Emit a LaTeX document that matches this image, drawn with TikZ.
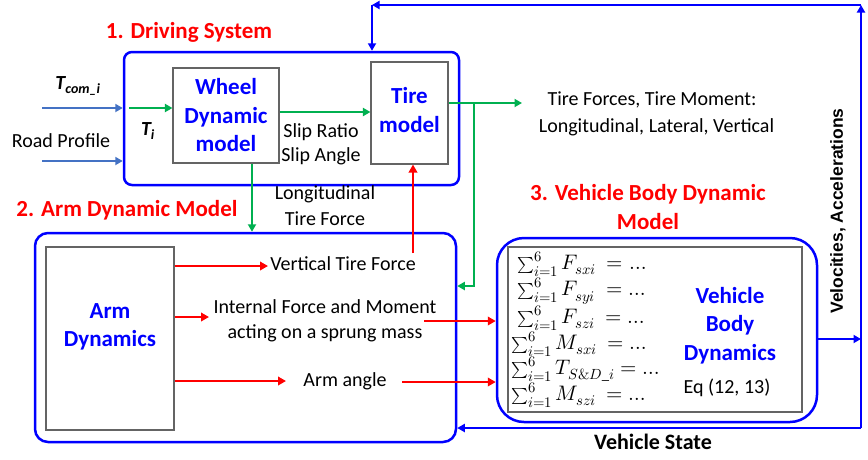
\documentclass[tikz,border=0pt]{standalone}
\usepackage{fontspec}
\usepackage{unicode-math}
\setmainfont{Carlito}
\setmathfont{Latin Modern Math}
\newfontfamily\arialfont{Liberation Sans}
\usetikzlibrary{arrows.meta,calc}
\definecolor{vblue}{RGB}{0,0,255}
\definecolor{vred}{RGB}{255,0,0}
\definecolor{vgreen}{RGB}{0,176,80}
\definecolor{inblue}{RGB}{68,114,196}
\definecolor{boxgray}{RGB}{100,100,100}
% compact summation sign for the body equations
\newcommand\bodysum{\mathop{\hbox{\fontsize{16}{16}\selectfont$\sum$}}\nolimits}
\tikzset{
  groupbox/.style={draw=vblue, line width=2.5pt, rounded corners=#1, inner sep=0pt},
  blockbox/.style={draw=boxgray, line width=1.1pt, fill=white, inner sep=0pt},
  heading/.style={font=\fontsize{23}{28}\selectfont\bfseries, text=vred, inner sep=0pt},
  blocklabel/.style={font=\fontsize{23}{28.5}\selectfont\bfseries, text=vblue, align=center, inner sep=0pt},
  sig/.style={font=\fontsize{20}{25}\selectfont, align=center, inner sep=0pt},
  eqn/.style={font=\fontsize{21}{24}\selectfont, anchor=west, inner sep=0pt},
  redarrow/.style={draw=vred, line width=2.8pt, -{Triangle[length=8pt,width=8.5pt]}},
  greenarrow/.style={draw=vgreen, line width=2.8pt, -{Triangle[length=7.5pt,width=8pt]}},
  bluearrow/.style={draw=vblue, line width=2.7pt, -{Triangle[length=7.5pt,width=8pt]}},
  inarrow/.style={draw=inblue, line width=2.5pt, -{Triangle[length=7.5pt,width=8pt]}},
}
\begin{document}
\begin{tikzpicture}[x=1pt,y=-1pt]
\useasboundingbox[fill=white] (0,0) rectangle (868,459);

% ---------- 1. Driving system ----------
\node[groupbox=8pt, minimum width=335pt, minimum height=133pt] (ds) at (291.5,118.5) {};
\node[blockbox, minimum width=106pt, minimum height=95pt] (wheel) at (226,115.5) {};
\node[blocklabel] (wheellbl) at (226,115.5) {Wheel\\Dynamic\\model};
\node[blockbox, minimum width=77pt, minimum height=102pt] (tire) at (409.5,113) {};
\node[blocklabel] (tirelbl) at (409.5,110) {Tire\\model};
\node[heading] (dshead) at (189,32) {1. Driving System};

% ---------- 2. Arm dynamic model ----------
\node[groupbox=13pt, minimum width=421pt, minimum height=209pt] (arm) at (245.5,337.5) {};
\node[blockbox, minimum width=128pt, minimum height=183pt] (armdyn) at (110,338.5) {};
\node[blocklabel] (armlbl) at (110,327) {Arm\\Dynamics};
\node[heading] (armhead) at (127,210) {2. Arm Dynamic Model};

% ---------- 3. Vehicle body dynamic model ----------
\node[groupbox=27pt, minimum width=320pt, minimum height=184pt] (veh) at (657,330) {};
\node[blockbox, minimum width=294pt, minimum height=165pt] (vehin) at (655,329.5) {};
\node[heading, align=center, font=\fontsize{23}{29}\selectfont\bfseries] (vehhead) at (648,207.5) {3. Vehicle Body Dynamic\\Model};
\node[blocklabel] (vehlbl) at (730,325.5) {Vehicle\\Body\\Dynamics};
\node[sig] (eqref) at (727,388) {Eq (12, 13)};

% body equations
\node[eqn] (e1) at (517,264) {$\bodysum_{i=1}^{6} F_{sxi}\ =\dots$};
\node[eqn] (e2) at (517,291) {$\bodysum_{i=1}^{6} F_{syi}\ =\dots$};
\node[eqn] (e3) at (517,318) {$\bodysum_{i=1}^{6} F_{szi}\ =\dots$};
\node[eqn] (e4) at (511,344) {$\bodysum_{i=1}^{6} M_{sxi}\ =\dots$};
\node[eqn] (e5) at (511,369) {$\bodysum_{i=1}^{6} T_{S\&D\_i}=\dots$};
\node[eqn] (e6) at (511,395) {$\bodysum_{i=1}^{6} M_{szi}\ =\dots$};

% ---------- inputs ----------
\coordinate (tcom) at (42,108);
\coordinate (road) at (42,161);
\draw[inarrow] (tcom) -- (tcom -| ds.west);
\draw[inarrow] (road) -- (road -| ds.west);
\node[sig, font=\fontsize{20}{24}\selectfont\bfseries\itshape] (tcomlbl) at (78,86) {T\textsubscript{com\_i}};
\node[sig] (roadlbl) at (61,141) {Road Profile};

% ---------- driving system signals ----------
\coordinate (ti) at (129,108);
\draw[greenarrow] (ti) -- (ti -| wheel.west);
\node[sig, font=\fontsize{20}{24}\selectfont\bfseries\itshape] (tilbl) at (148,131) {T\textsubscript{i}};
\draw[greenarrow] ([yshift=3.5pt]wheel.east) -- ([yshift=3.5pt]wheel.east -| tire.west);
\node[sig, font=\fontsize{20}{24}\selectfont] (sliplbl) at (321,144) {Slip Ratio\\Slip Angle};

\coordinate (tfo) at (522,103);
\coordinate (gbr) at (474,103);
\coordinate (gcorner) at (474,286);
\draw[greenarrow] (tfo -| tire.east) -- (tfo);
\draw[greenarrow] (gbr) -- (gcorner) -- (gcorner -| arm.east);
\node[sig, font=\fontsize{20}{27}\selectfont] (tflbl) at (652,113.5) {Tire Forces, Tire Moment:\\\ \ Longitudinal, Lateral, Vertical};

\draw[greenarrow] ([xshift=26pt]wheel.south) -- ([xshift=26pt]wheel.south |- arm.north);
\node[sig, font=\fontsize{20}{26}\selectfont] (ltflbl) at (325,206) {Longitudinal\\Tire Force};

% ---------- arm dynamics signals ----------
\coordinate (vtf) at (413,253);
\draw[redarrow] (vtf) -- (vtf |- tire.south);
\coordinate (r1) at (268,266);
\coordinate (r2) at (209,317);
\coordinate (r3) at (286,381);
\draw[redarrow] (r1 -| armdyn.east) -- (r1);
\draw[redarrow] (r2 -| armdyn.east) -- (r2);
\draw[redarrow] (r3 -| armdyn.east) -- (r3);
\node[sig] (vtflbl) at (343,264) {Vertical Tire Force};
\node[sig, font=\fontsize{20}{25}\selectfont] (iflbl) at (325,320.5) {Internal Force and Moment\\acting on a sprung mass};
\node[sig] (angl) at (345,381) {Arm angle};
\coordinate (r4) at (424,321);
\coordinate (r5) at (402,382);
\draw[redarrow] (r4) -- (r4 -| veh.west);
\draw[redarrow] (r5) -- (r5 -| veh.west);

% ---------- vehicle state feedback ----------
\coordinate (vout) at (861,339);
\coordinate (fbr) at (861,428);
\coordinate (ftr) at (861,5);
\coordinate (ftl) at (372,5);
\draw[bluearrow] (vout -| veh.east) -- (vout);
\draw[bluearrow] (fbr) -- (ftr);
\draw[bluearrow] (ftr) -- (ftl);
\draw[bluearrow] (ftl) -- (ftl |- ds.north);
\draw[bluearrow] (fbr) -- (fbr -| arm.east);
\node[sig, font=\arialfont\fontsize{17.5}{21}\selectfont\bfseries, rotate=90] (vellbl) at (838,211) {Velocities, Accelerations};
\node[sig, font=\fontsize{22}{26}\selectfont\bfseries] (vslbl) at (653,442) {Vehicle State};
\end{tikzpicture}
\end{document}
